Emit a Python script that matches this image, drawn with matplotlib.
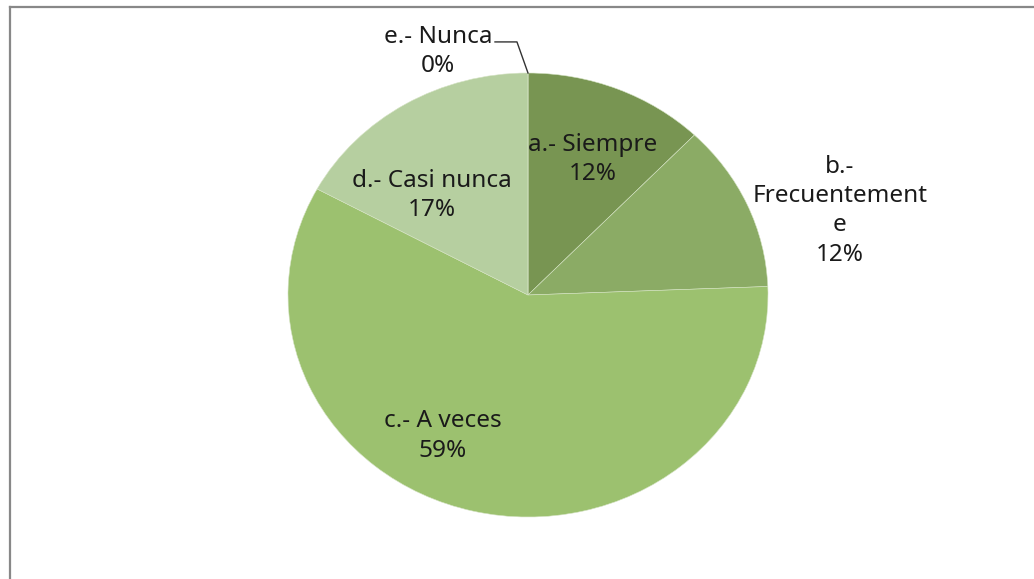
import matplotlib.pyplot as plt
from matplotlib.lines import Line2D

plt.rcParams['font.family'] = ['Noto Sans', 'DejaVu Sans']

# counts behind the percentages
categories = ['a.- Siempre', 'b.-\nFrecuentement\ne', 'c.- A veces', 'd.- Casi nunca', 'e.- Nunca']
counts = [5, 5, 24, 7, 0]
colors = ['#789552', '#8BAB65', '#9CC16F', '#B6CFA0', '#C9DBB5']

W, H = 1034, 579
fig = plt.figure(figsize=(W / 100, H / 100), dpi=100)

# chart frame (only top and left edges visible)
fig.add_artist(Line2D([9.5 / W, 1], [1 - 6.5 / H, 1 - 6.5 / H], color='#888888', lw=1.6, transform=fig.transFigure))
fig.add_artist(Line2D([9.5 / W, 9.5 / W], [0, 1 - 6.5 / H], color='#888888', lw=1.6, transform=fig.transFigure))

cx, cy, rx, ry = 528, 295, 240, 222
ax = fig.add_axes([(cx - rx) / W, (H - cy - ry) / H, 2 * rx / W, 2 * ry / H])
wedges, _ = ax.pie(counts, colors=colors, startangle=90, counterclock=False,
                   wedgeprops=dict(edgecolor='#d5e3c4', linewidth=0.4))
ax.set_aspect('auto')
ax.set_xlim(-1, 1)
ax.set_ylim(-1, 1)
ax.set_clip_on(False)

total = sum(counts)
pcts = [round(100 * c / total) for c in counts]
label_pos = [(0.27, 0.61), (1.3, 0.38), (-0.354, -0.635), (-0.40, 0.448), (-0.375, 1.097)]
for cat, p, (x, y) in zip(categories, pcts, label_pos):
    ax.text(x, y, f'{cat}\n{p}%', ha='center', va='center', fontsize=17.5,
            color='#1a1a1a', linespacing=1.3, clip_on=False)

# leader line for the zero slice
ax.plot([-0.1375, -0.046, 0], [1.14, 1.14, 1.0], color='#333333', lw=1, clip_on=False)

fig.savefig('out.png', dpi=100)
